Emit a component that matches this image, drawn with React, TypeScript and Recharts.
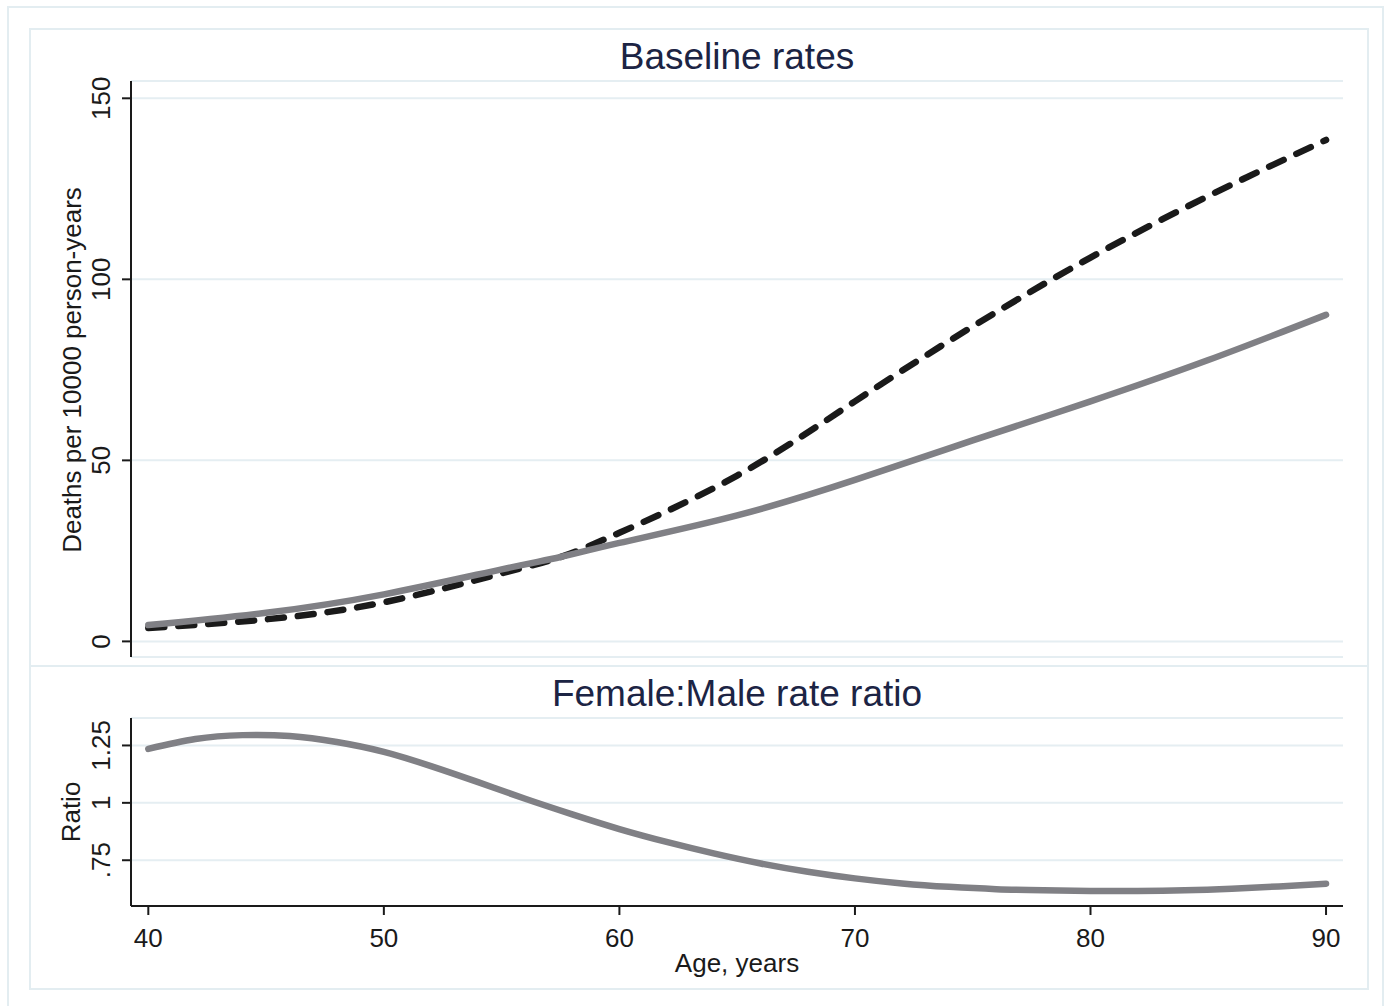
import { CartesianGrid, Line, LineChart, XAxis, YAxis } from "recharts";

// baseline mortality rates, deaths per 10000 person-years
const ages = [40, 45, 50, 55, 57.5, 60, 65, 70, 75, 80, 85, 90];
const maleRates = [3.7, 6.1, 10.8, 18.8, 23.3, 30.0, 45.8, 66.3, 87.0, 106.0, 123.0, 138.5];
const femaleRates = [4.5, 7.9, 13.0, 19.9, 23.3, 27.2, 34.8, 44.6, 55.5, 66.3, 77.7, 90.2];

// female:male rate ratio
const ratioAges = [40, 42, 44, 46, 48, 50, 52, 54, 56, 58, 60, 62, 64, 66, 68, 70, 72, 74, 76, 78, 80, 82, 84, 86, 88, 90];
const ratioValues = [
  1.235, 1.278, 1.295, 1.291, 1.265, 1.222, 1.16, 1.09, 1.018, 0.95, 0.886, 0.83, 0.78,
  0.736, 0.7, 0.671, 0.649, 0.634, 0.624, 0.619, 0.616, 0.616, 0.619, 0.626, 0.636, 0.648,
];

const ageTicks = [40, 50, 60, 70, 80, 90];
const rateTicks = [0, 50, 100, 150];
const ratioTicks = [0.75, 1, 1.25];
const ratioTickLabels = [".75", "1", "1.25"];

const FONT = '"Liberation Sans", Arial, Helvetica, sans-serif';
const INK = "#1a1a1a";
const TITLE = "#1c2444";
const GRID = "#e5eef2";
const FRAME = "#e3edf1";
const GREY = "#808085";
const X_DOMAIN: [number, number] = [39.265, 90.72];

const rateData = ages.map((age, i) => ({ age, male: maleRates[i], female: femaleRates[i] }));
const ratioData = ratioAges.map((age, i) => ({ age, ratio: ratioValues[i] }));

function RotatedTick({ x, y, payload, labels }: any) {
  const v = payload.value;
  const idx = labels ? ratioTicks.indexOf(v) : -1;
  const text = idx >= 0 ? labels[idx] : String(v);
  const tx = x - 12;
  return (
    <text
      x={tx}
      y={y}
      transform={`rotate(-90 ${tx} ${y})`}
      textAnchor="middle"
      fontSize={26}
      fontFamily={FONT}
      fill={INK}
    >
      {text}
    </text>
  );
}

function AgeTick({ x, y, payload }: any) {
  return (
    <text x={x} y={y + 32} textAnchor="middle" fontSize={26} fontFamily={FONT} fill={INK}>
      {payload.value}
    </text>
  );
}

const abs = (style: React.CSSProperties): React.CSSProperties => ({ position: "absolute", ...style });

export default function App() {
  return (
    <div style={abs({ left: 0, top: 0, width: 1388, height: 1006, background: "#fff", overflow: "hidden", fontFamily: FONT })}>
      {/* frames */}
      <div style={abs({ left: 7, top: 6, width: 1377, height: 1010, border: `2px solid ${FRAME}`, boxSizing: "border-box" })} />
      <div style={abs({ left: 29, top: 28, width: 1340, height: 962, border: `2px solid ${FRAME}`, boxSizing: "border-box" })} />
      <div style={abs({ left: 29, top: 665, width: 1340, height: 2, background: FRAME })} />

      {/* titles */}
      <div style={abs({ left: 131, width: 1212, top: 36, textAlign: "center", fontSize: 37, color: TITLE, lineHeight: "42px" })}>
        Baseline rates
      </div>
      <div style={abs({ left: 131, width: 1212, top: 673, textAlign: "center", fontSize: 37, color: TITLE, lineHeight: "42px" })}>
        Female:Male rate ratio
      </div>

      {/* axis titles */}
      <svg style={abs({ left: 0, top: 0 })} width={1388} height={1006}>
        <text x={81} y={370} transform="rotate(-90 81 370)" textAnchor="middle" fontSize={26} fontFamily={FONT} fill={INK}>
          Deaths per 10000 person-years
        </text>
        <text x={80} y={812} transform="rotate(-90 80 812)" textAnchor="middle" fontSize={26} fontFamily={FONT} fill={INK}>
          Ratio
        </text>
        <text x={737} y={972} textAnchor="middle" fontSize={26} fontFamily={FONT} fill={INK}>
          Age, years
        </text>
      </svg>

      {/* top panel */}
      <div style={abs({ left: 0, top: 0 })}>
        <LineChart width={1388} height={680} data={rateData} margin={{ top: 81, right: 45, bottom: 23, left: 71 }}>
          <CartesianGrid horizontal vertical={false} stroke={GRID} strokeWidth={2} />
          <XAxis dataKey="age" type="number" domain={X_DOMAIN} hide />
          <YAxis
            type="number"
            domain={[-4.31, 154.78]}
            ticks={rateTicks}
            width={60}
            tickSize={9}
            tickMargin={0}
            axisLine={{ stroke: INK, strokeWidth: 2 }}
            tickLine={{ stroke: INK, strokeWidth: 2 }}
            tick={<RotatedTick />}
            interval={0}
          />
          <Line
            dataKey="male"
            type="natural"
            stroke={INK}
            strokeWidth={6.5}
            strokeDasharray="16 14"
            strokeLinecap="round"
            dot={false}
            isAnimationActive={false}
          />
          <Line
            dataKey="female"
            type="natural"
            stroke={GREY}
            strokeWidth={6.5}
            strokeLinecap="round"
            dot={false}
            isAnimationActive={false}
          />
        </LineChart>
      </div>

      {/* bottom panel */}
      <div style={abs({ left: 0, top: 666 })}>
        <LineChart width={1388} height={323} data={ratioData} margin={{ top: 52, right: 45, bottom: 23, left: 71 }}>
          <CartesianGrid horizontal vertical={false} stroke={GRID} strokeWidth={2} />
          <XAxis
            dataKey="age"
            type="number"
            domain={X_DOMAIN}
            ticks={ageTicks}
            height={60}
            tickSize={9}
            tickMargin={0}
            axisLine={{ stroke: INK, strokeWidth: 2 }}
            tickLine={{ stroke: INK, strokeWidth: 2 }}
            tick={<AgeTick />}
            interval={0}
          />
          <YAxis
            type="number"
            domain={[0.5506, 1.3696]}
            ticks={ratioTicks}
            width={60}
            tickSize={9}
            tickMargin={0}
            axisLine={{ stroke: INK, strokeWidth: 2 }}
            tickLine={{ stroke: INK, strokeWidth: 2 }}
            tick={<RotatedTick labels={ratioTickLabels} />}
            interval={0}
          />
          <Line
            dataKey="ratio"
            type="natural"
            stroke={GREY}
            strokeWidth={6.5}
            strokeLinecap="round"
            dot={false}
            isAnimationActive={false}
          />
        </LineChart>
      </div>
    </div>
  );
}
